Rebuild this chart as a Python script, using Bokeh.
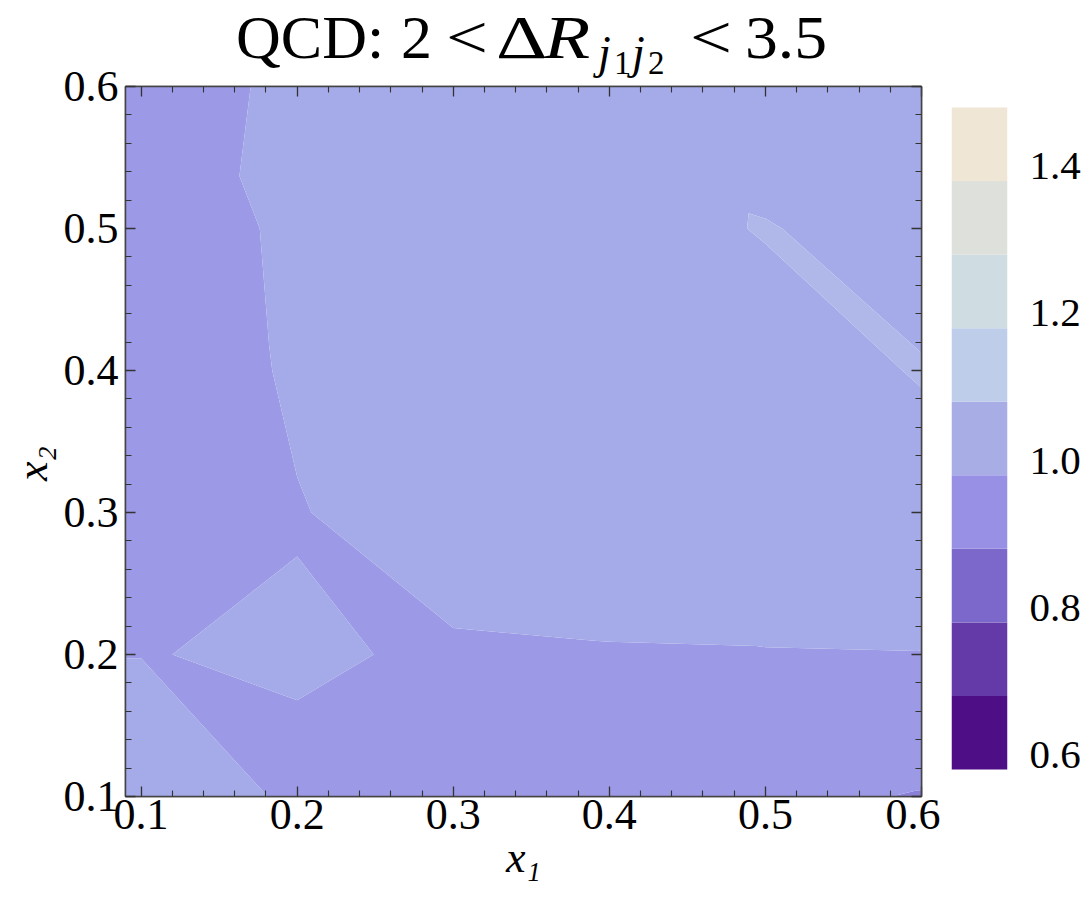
import numpy as np
from bokeh.plotting import figure
from bokeh.models import (Range1d, FixedTicker, LinearAxis, PrintfTickFormatter,
                          CustomJSTickFormatter, Div)
from bokeh.layouts import row, column
from bokeh.embed import file_html
from bokeh.resources import INLINE

# ---------------- data ----------------
x1_nodes = [0.09, 0.1, 0.2, 0.3, 0.4, 0.5, 0.6]
x2_nodes = [0.1, 0.2, 0.3, 0.4, 0.5, 0.6]
# ratio values along x1_nodes, one list per x2 row (bottom to top)
ratio_x2_010 = [1.07, 1.07, 0.959, 0.9385, 0.92, 0.897, 0.876]
ratio_x2_020 = [0.9775, 0.9775, 0.99, 0.9696, 0.9751, 0.9768, 0.9785]
ratio_x2_030 = [0.963, 0.963, 0.9755, 1.0255, 1.03, 1.04, 1.029]
ratio_x2_040 = [0.909, 0.909, 0.9935, 1.02, 1.04, 1.03, 1.087]
ratio_x2_050 = [0.9185, 0.9185, 0.9994, 1.03, 1.035, 1.086, 1.03]
ratio_x2_060 = [0.947, 0.947, 0.994, 1.02, 1.03, 1.0, 1.04]

levels = [0.58, 0.68, 0.78, 0.88, 0.98, 1.08, 1.18, 1.28, 1.38, 1.48]
map_colors = ["#4d0e86", "#643aa8", "#8a80d8", "#9c99e6", "#a5aae8",
              "#b0b8e9", "#cfdde3", "#dee0dc", "#efe6d5"]
cbar_colors = ["#4d0e86", "#643aa8", "#7c68cb", "#9790e4", "#a8ade6",
               "#bdcdea", "#cfdde3", "#dee0dc", "#efe6d5"]
cbar_ticks = [0.6, 0.8, 1.0, 1.2, 1.4]
x_ticks = [0.1, 0.2, 0.3, 0.4, 0.5, 0.6]

# ---------------- triangulated mesh (anti-diagonal split of each cell) ----------------
z = np.array([ratio_x2_010, ratio_x2_020, ratio_x2_030,
              ratio_x2_040, ratio_x2_050, ratio_x2_060])
xs = np.array(x1_nodes)
ys = np.array(x2_nodes)
nx, ny = len(xs), len(ys)
ncol = 2 * (nx - 1) + 1
cols_b = [(c + 1) // 2 for c in range(ncol)]
cols_t = [c // 2 for c in range(ncol)]
rows_def = [(0, cols_b)]
for j in range(1, ny - 1):
    rows_def.append((j, cols_t))
    rows_def.append((j, cols_b))
rows_def.append((ny - 1, cols_t))
X = np.array([[xs[i] for i in cols] for j, cols in rows_def])
Y = np.array([[ys[j] for i in cols] for j, cols in rows_def])
Z = np.array([[z[j, i] for i in cols] for j, cols in rows_def])

FONT = "Liberation Serif"
TICK_COLOR = "#333333"
TITLE_H = 50
PLOT_H = 899 - TITLE_H

p = figure(width=940, height=PLOT_H, x_range=Range1d(0.09, 0.6), y_range=Range1d(0.1, 0.6),
           output_backend="svg", toolbar_location=None,
           min_border_left=125, min_border_right=19, min_border_top=86 - TITLE_H,
           min_border_bottom=103)
p.grid.visible = False
p.outline_line_color = "#444444"
p.outline_line_width = 1.5
p.border_fill_color = None

p.contour(X, Y, Z, levels=levels, fill_color=map_colors)

minor = [round(0.1 + 0.02 * i, 2) for i in range(26) if i % 5]

def style_axis(ax, labels=True):
    ax.ticker = FixedTicker(ticks=x_ticks, minor_ticks=minor)
    ax.major_tick_in = 10
    ax.major_tick_out = 0
    ax.minor_tick_in = 6
    ax.minor_tick_out = 0
    ax.major_tick_line_color = TICK_COLOR
    ax.minor_tick_line_color = TICK_COLOR
    ax.major_tick_line_width = 1.3
    ax.minor_tick_line_width = 1.1
    ax.axis_line_color = "#444444"
    ax.axis_line_width = 1.5
    if labels:
        ax.formatter = PrintfTickFormatter(format="%.1f")
        ax.major_label_text_font = FONT
        ax.major_label_text_font_size = "44px"
        ax.major_label_text_color = "black"
        ax.axis_label_text_font = FONT
        ax.axis_label_text_font_size = "44px"
        ax.axis_label_text_font_style = "italic"
        ax.axis_label_text_color = "black"
    else:
        ax.formatter = CustomJSTickFormatter(code="return ''")
        ax.major_label_text_font_size = "0px"
        ax.major_label_standoff = 0

style_axis(p.xaxis[0])
style_axis(p.yaxis[0])
p.xaxis[0].major_label_standoff = 3
p.yaxis[0].major_label_standoff = 7
p.xaxis[0].axis_label = "x\u2081"
p.xaxis[0].axis_label_standoff = 1
p.yaxis[0].axis_label = "x\u2082\u2003"
p.yaxis[0].axis_label_standoff = 4
top_ax = LinearAxis()
right_ax = LinearAxis()
style_axis(top_ax, labels=False)
style_axis(right_ax, labels=False)
p.add_layout(top_ax, "above")
p.add_layout(right_ax, "right")

# ---------------- colour bar ----------------
px_per_unit = 662 / (levels[-1] - levels[0])
cb_lo = levels[0] - 27 / px_per_unit
cb_hi = levels[-1] + 21 / px_per_unit
pc = figure(width=143, height=PLOT_H, x_range=Range1d(0, 1), y_range=Range1d(cb_lo, cb_hi),
            output_backend="svg", toolbar_location=None,
            min_border_left=11, min_border_right=71, min_border_top=86 - TITLE_H,
            min_border_bottom=103, x_axis_location=None, y_axis_location="right")
pc.grid.visible = False
pc.outline_line_color = None
pc.border_fill_color = None
pc.quad(left=0, right=1, bottom=levels[:-1], top=levels[1:], fill_color=cbar_colors, line_color=None)
cax = pc.yaxis[0]
cax.ticker = FixedTicker(ticks=cbar_ticks)
cax.formatter = PrintfTickFormatter(format="%.1f")
cax.major_tick_line_color = None
cax.minor_tick_line_color = None
cax.axis_line_color = None
cax.major_label_standoff = 16
cax.major_label_text_font = FONT
cax.major_label_text_font_size = "41px"
cax.major_label_text_color = "black"

# ---------------- title (real HTML text) ----------------
def piece(text, left, baseline, size, italic=False, sx=1.0):
    top = baseline - 0.8375 * size
    style = (f"position:absolute; left:{left}px; top:{top:.1f}px; font-size:{size}px; "
             f"line-height:{size}px; white-space:nowrap; transform-origin:0 0; "
             f"transform:scaleX({sx});"
             + (" font-style:italic;" if italic else ""))
    return f'<span style="{style}">{text}</span>'

title_html = (
    f'<div style="position:relative; width:1083px; height:{TITLE_H}px; overflow:visible; '
    f"font-family:'{FONT}'; color:black;\">"
    + piece("QCD:", 236, 58, 62)
    + piece("2", 401, 58, 62)
    + piece("&lt;", 446, 58, 62, sx=1.2)
    + piece("\u0394", 496, 58, 62, sx=1.28)
    + piece("R", 544, 58, 62, italic=True, sx=1.22)
    + piece("j", 598, 68, 46, italic=True)
    + piece("1", 614, 75, 33)
    + piece("j", 632, 68, 46, italic=True)
    + piece("2", 648, 75, 33)
    + piece("&lt;", 690, 58, 62, sx=1.2)
    + piece("3.5", 745, 58, 62, sx=1.06)
    + "</div>"
)
title = Div(text=title_html, width=1083, height=TITLE_H, margin=0,
            styles={"overflow": "visible", "z-index": "2"})

layout = column(title, row(p, pc))
open("out.html", "w").write(file_html(layout, INLINE))
